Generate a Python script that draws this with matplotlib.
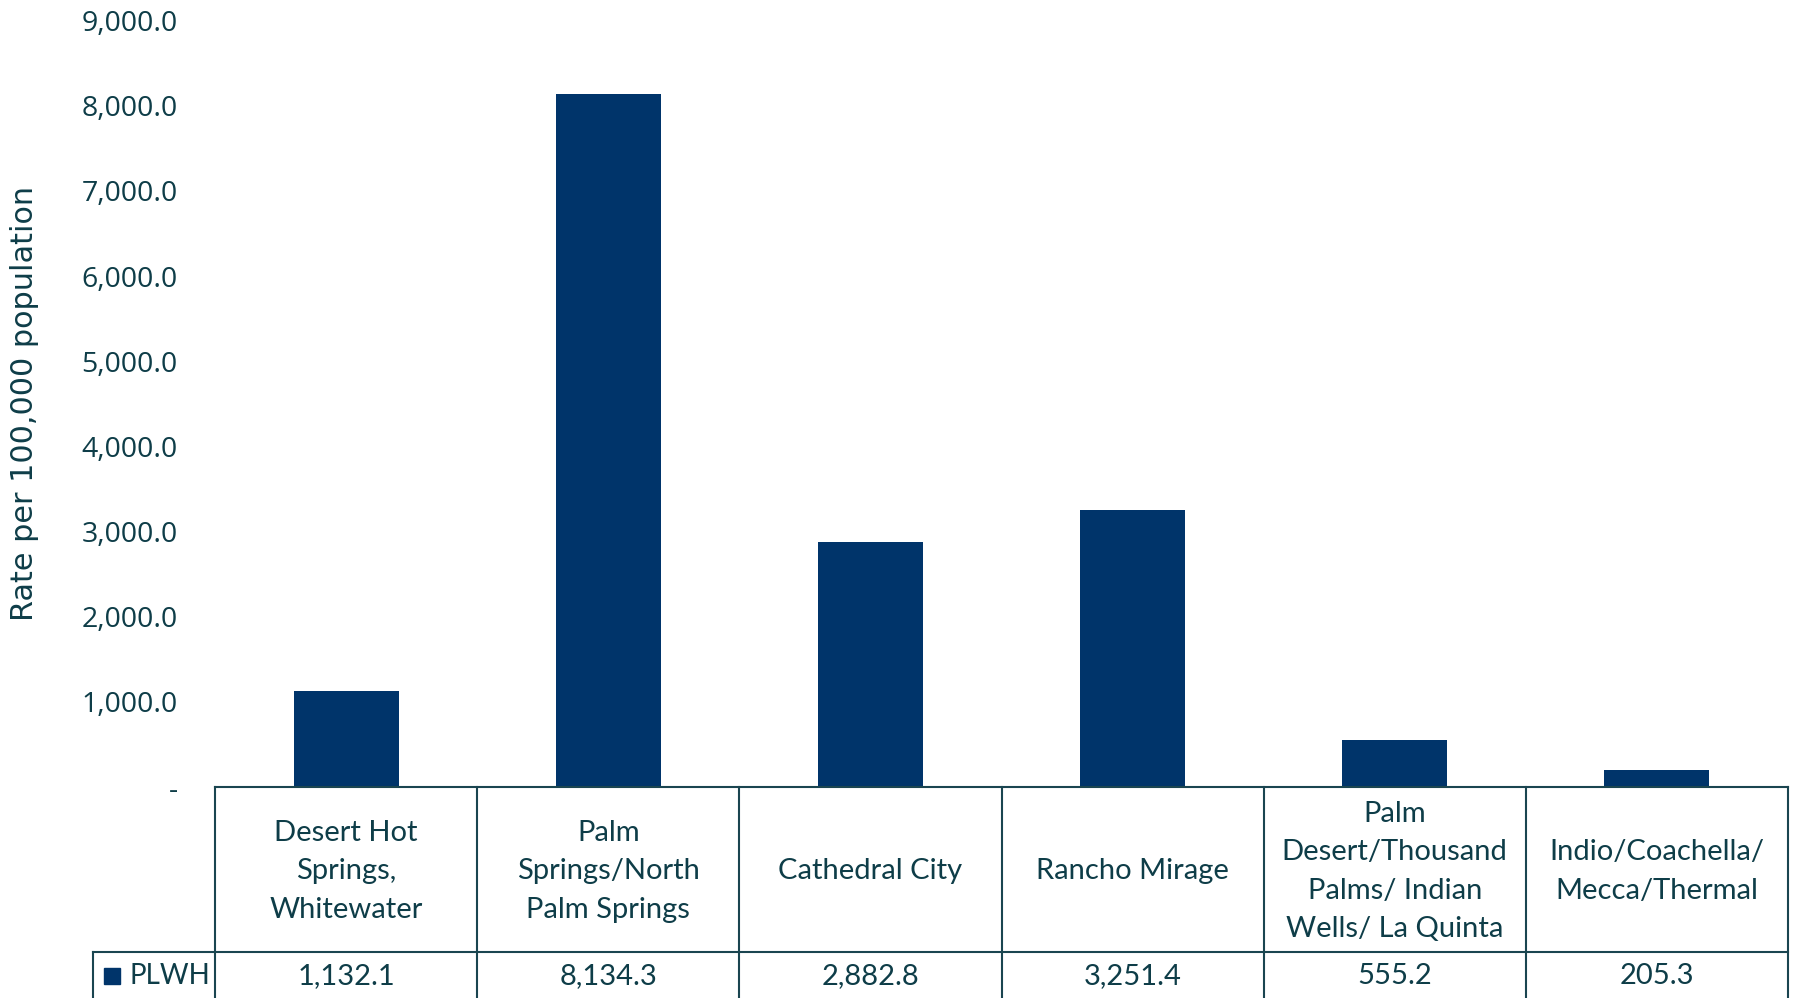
import matplotlib
matplotlib.use("Agg")
import matplotlib.pyplot as plt
from matplotlib.lines import Line2D
from matplotlib.patches import Rectangle

categories = ["Desert Hot\nSprings,\nWhitewater", "Palm\nSprings/North\nPalm Springs",
              "Cathedral City", "Rancho Mirage",
              "Palm\nDesert/Thousand\nPalms/ Indian\nWells/ La Quinta",
              "Indio/Coachella/\nMecca/Thermal"]
values = [1132.1, 8134.3, 2882.8, 3251.4, 555.2, 205.3]
value_labels = ["1,132.1", "8,134.3", "2,882.8", "3,251.4", "555.2", "205.3"]
series_name = "PLWH"
yticks = [0, 1000, 2000, 3000, 4000, 5000, 6000, 7000, 8000, 9000]
ylabel = "Rate per 100,000 population"

W, H = 1794, 998
bar_color = "#00346a"
text_color = "#0e3d48"
line_color = "#1a4550"
tick_font = "Open Sans"
label_font = "DejaVu Sans"
table_font = ["Lato", "DejaVu Sans"]

fig = plt.figure(figsize=(W / 100, H / 100), dpi=100)
left, right = 215 / W, 1788 / W
y0_px, y9_px = 787, 20.6
ax = fig.add_axes([left, 1 - y0_px / H, right - left, (y0_px - y9_px) / H])
x = list(range(len(values)))
ax.bar(x, values, width=0.4, color=bar_color)
ax.set_xlim(-0.5, len(values) - 0.5)
ax.set_ylim(0, 9000)
ax.set_yticks(yticks)
ax.set_yticklabels(["-" if v == 0 else f"{v:,.1f}" for v in yticks],
                   fontsize=20.5, color=text_color, family=tick_font)
ax.tick_params(axis="y", length=0, pad=27)
ax.tick_params(axis="x", length=0, labelbottom=False)
for s in ["top", "right", "left"]:
    ax.spines[s].set_visible(False)
ax.spines["bottom"].set_color(line_color)
ax.spines["bottom"].set_linewidth(1.5)

fig.text(25 / W, 1 - 403 / H, ylabel, rotation=90, ha="center", va="center",
         fontsize=21.8, color=text_color, family=label_font)

# table axes
tax = fig.add_axes([left, 0, right - left, 1 - y0_px / H])
tax.set_xlim(-0.5, len(values) - 0.5)
tax.set_ylim(0, H - y0_px)
tax.axis("off")
col_w_px = (1788 - 215) / len(values)
leg_left = -0.5 - (215 - 93) / col_w_px
hdr_bot = H - 952
lw = 1.5
for i in range(len(values) + 1):
    tax.add_line(Line2D([i - 0.5, i - 0.5], [-5, H - y0_px], color=line_color, lw=lw, clip_on=False))
tax.add_line(Line2D([leg_left, len(values) - 0.5], [hdr_bot, hdr_bot], color=line_color, lw=lw, clip_on=False))
tax.add_line(Line2D([leg_left, leg_left], [-5, hdr_bot], color=line_color, lw=lw, clip_on=False))

hdr_center = (hdr_bot + (H - y0_px)) / 2 - 2
for i, (c, v) in enumerate(zip(categories, value_labels)):
    tax.text(i, hdr_center, c, ha="center", va="center", fontsize=21, color=text_color,
             family=table_font, linespacing=1.6)
    tax.text(i, H - 976, v, ha="center", va="center", fontsize=21, color=text_color,
             family=table_font)

sq = 16 / col_w_px
tax.add_patch(Rectangle(((104 - 215) / col_w_px - 0.5, H - 976 - 8), sq, 16,
                        color=bar_color, clip_on=False))
tax.text((129 - 215) / col_w_px - 0.5, H - 976, series_name, ha="left", va="center",
         fontsize=20, color=text_color, family=table_font)

fig.savefig("out.png", dpi=100)
